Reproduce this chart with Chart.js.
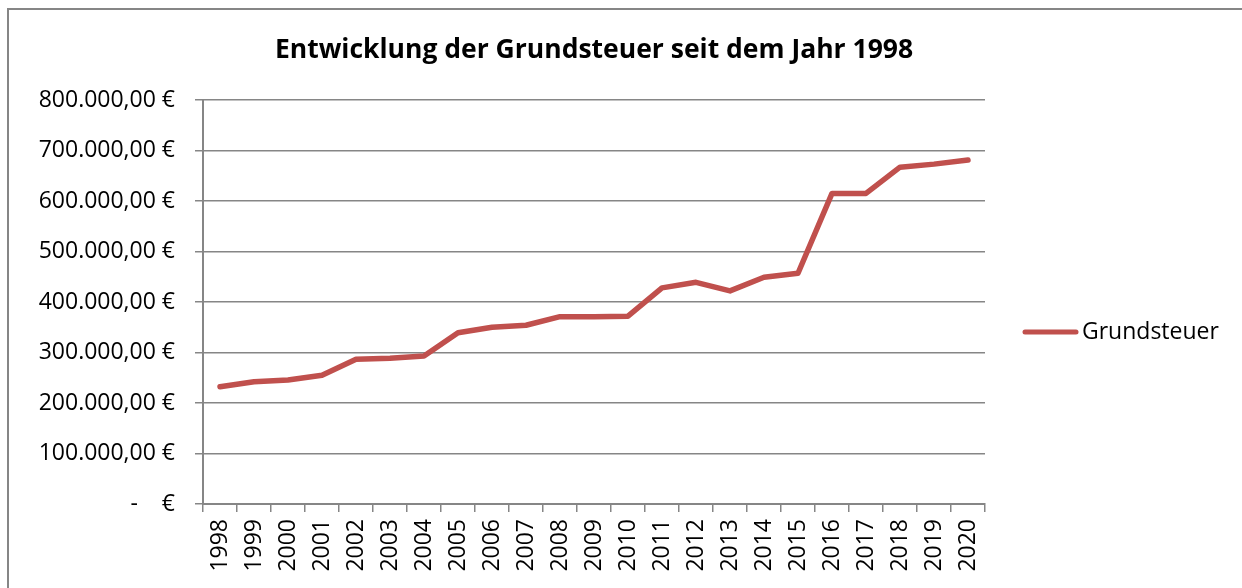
<!DOCTYPE html>
<html>
<head>
<meta charset="utf-8">
<script src="https://cdn.jsdelivr.net/npm/chart.js@4"></script>
<style>
    body { margin: 0; background: #fff; }
    #frame {
        position: absolute; left: 7px; top: 8px; width: 1300px; height: 700px;
        border-left: 2px solid #868686; border-top: 2px solid #868686;
    }
    #wrap { position: absolute; left: 0; top: 0; width: 1242px; height: 588px; }
</style>
</head>
<body>
<div id="frame"></div>
<div id="wrap"><canvas id="grundsteuerChart"></canvas></div>
<script>
var years = ["1998", "1999", "2000", "2001", "2002", "2003", "2004", "2005", "2006", "2007", "2008",
    "2009", "2010", "2011", "2012", "2013", "2014", "2015", "2016", "2017", "2018", "2019", "2020"];
var grundsteuer = [232000, 242000, 245500, 255000, 286500, 288500, 293000, 339000, 350000, 354000, 371000,
    371000, 372000, 428000, 439000, 422000, 449000, 457000, 615000, 615000, 667000, 673000, 681000];
var yTicks = [0, 100000, 200000, 300000, 400000, 500000, 600000, 700000, 800000];

var FONT = "'Open Sans', sans-serif";
var GRID = "#868686";
var LINE = "#C0504D";

function FormatEuro(value) {
    if (value === 0) {
        return "-\u00A0\u00A0\u00A0\u00A0€";
    }
    return value.toLocaleString("de-DE", { minimumFractionDigits: 2, maximumFractionDigits: 2 }) + " €";
}

// legend drawn to the right of the plot, like the spreadsheet one
var sideLegend = {
    id: "sideLegend",
    afterDraw: function (chart) {
        var ctx = chart.ctx;
        var ds = chart.data.datasets[0];
        var y = 332;
        ctx.save();
        ctx.strokeStyle = ds.borderColor;
        ctx.lineWidth = 5;
        ctx.lineCap = "round";
        ctx.beginPath();
        ctx.moveTo(1025, y);
        ctx.lineTo(1076, y);
        ctx.stroke();
        ctx.fillStyle = "#000";
        ctx.font = "23px " + FONT;
        ctx.textBaseline = "middle";
        ctx.fillText(ds.label, 1082, y);
        ctx.restore();
    }
};

var ctx = document.getElementById("grundsteuerChart").getContext("2d");
var myChart = new Chart(ctx, {
    type: "line",
    data: {
        labels: years,
        datasets: [{
            label: "Grundsteuer",
            data: grundsteuer,
            borderColor: LINE,
            backgroundColor: LINE,
            borderWidth: 5.5,
            borderCapStyle: "round",
            borderJoinStyle: "round",
            pointRadius: 0,
            tension: 0,
            fill: false
        }]
    },
    options: {
        responsive: true,
        maintainAspectRatio: false,
        animation: false,
        layout: {
            padding: { left: 0, right: 257, top: 0, bottom: 0 }
        },
        plugins: {
            legend: { display: false },
            tooltip: { enabled: false },
            title: {
                display: true,
                text: "Entwicklung der Grundsteuer seit dem Jahr 1998",
                color: "#000",
                fullSize: false,
                font: { family: FONT, size: 26.5, weight: "bold", lineHeight: 1.2 },
                padding: { top: 35, bottom: 33.2 }
            }
        },
        scales: {
            x: {
                offset: true,
                grid: {
                    offset: true,
                    drawOnChartArea: false,
                    drawTicks: true,
                    tickLength: 8,
                    color: GRID,
                    lineWidth: 1.5
                },
                border: { color: GRID, width: 2 },
                ticks: {
                    color: "#000",
                    font: { family: FONT, size: 23 },
                    minRotation: 90,
                    maxRotation: 90,
                    autoSkip: false,
                    padding: 7
                },
                afterFit: function (scale) { scale.height = 84; }
            },
            y: {
                min: 0,
                max: 800000,
                afterBuildTicks: function (scale) {
                    scale.ticks = yTicks.map(function (v) { return { value: v }; });
                },
                grid: {
                    color: GRID,
                    lineWidth: 1.5,
                    tickLength: 8
                },
                border: { color: GRID, width: 2 },
                ticks: {
                    color: "#000",
                    font: { family: FONT, size: 23 },
                    padding: 20,
                    callback: function (value) { return FormatEuro(value); }
                },
                afterFit: function (scale) { scale.width = 203; }
            }
        }
    },
    plugins: [sideLegend]
});
</script>
</body>
</html>
